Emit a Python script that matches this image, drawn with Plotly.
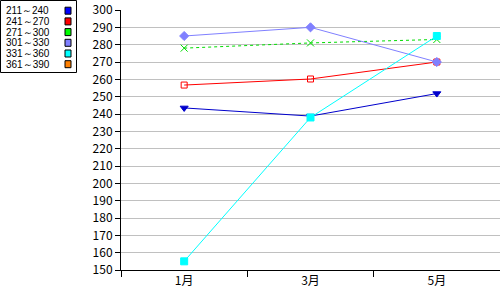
import plotly.graph_objects as go

months = ["1月", "3月", "5月"]
series_names = ["211～240", "241～270", "271～300", "301～330", "331～360", "361～390"]
v211 = [243.5, 238.8, 251.8]
v241 = [256.7, 260.2, 270.0]
v271 = [278.0, 281.0, 283.0]
v301 = [285.0, 290.0, 270.0]
v331 = [155.0, 238.0, 285.0]
v361 = [None, None, None]

colors = ["#0000CC", "#FF0000", "#00DD00", "#8080FF", "#00FFFF", "#FF8000"]
legend_colors = ["#0000FF", "#FF0000", "#00FF00", "#8080FF", "#00FFFF", "#FF8000"]
symbols = ["triangle-down", "square-open", "x-thin-open", "diamond", "square", "circle"]
sizes = [7, 6, 7, 7, 7, 6]
dashes = ["solid", "solid", "dot", "solid", "solid", "solid"]
all_vals = [v211, v241, v271, v301, v331, v361]

FONT = "Noto Sans CJK JP"
LEG_FONT = "Liberation Sans"
fig = go.Figure()
for name, vals, c, s, sz, d in zip(series_names, all_vals, colors, symbols, sizes, dashes):
    fig.add_trace(go.Scatter(
        x=months, y=vals, name=name, mode="lines+markers",
        line=dict(color=c, width=1, dash=d),
        marker=dict(color=c, symbol=s, size=sz, line=dict(color=c, width=1)),
        showlegend=False,
    ))

W, H = 500, 300
ML, MR, MT, MB = 121, 0, 10, 30
PW = W - ML - MR
PH = H - MT - MB

def px_x(px):
    return (px - ML) / PW

def px_y(py):
    return 1 - (py - MT) / PH

ROW = 10.7
shapes = []
annotations = []
# legend box
shapes.append(dict(type="rect", xref="paper", yref="paper",
                   x0=px_x(0.5), x1=px_x(76.5), y0=px_y(0.5), y1=px_y(72.5),
                   line=dict(color="black", width=1), fillcolor="white", layer="above"))
for i, (name, lc) in enumerate(zip(series_names, legend_colors)):
    cy = ROW + i * ROW
    annotations.append(dict(xref="paper", yref="paper", x=px_x(5), y=px_y(cy),
                            xanchor="left", yanchor="middle", text=name,
                            showarrow=False, borderpad=0,
                            font=dict(family=LEG_FONT, size=10, color="black")))
    shapes.append(dict(type="rect", xref="paper", yref="paper",
                       x0=px_x(65), x1=px_x(71), y0=px_y(cy - 3.5), y1=px_y(cy + 3.5),
                       line=dict(color="black", width=1), fillcolor=lc, layer="above"))

fig.update_layout(
    width=W, height=H,
    margin=dict(l=ML, r=MR, t=MT, b=MB, pad=0),
    paper_bgcolor="white", plot_bgcolor="white",
    shapes=shapes, annotations=annotations,
    font=dict(family=FONT, size=12, color="black"),
    xaxis=dict(
        type="category", range=[-0.5, 2.5], tickson="boundaries",
        ticks="outside", ticklen=6, tickcolor="black", tickwidth=1,
        showline=True, linecolor="black", linewidth=1, showgrid=False,
        tickfont=dict(family=FONT, size=12), zeroline=False,
    ),
    yaxis=dict(
        range=[150, 300], dtick=10, tick0=150,
        ticks="outside", ticklen=5, tickcolor="black", tickwidth=1,
        showline=True, linecolor="black", linewidth=1,
        showgrid=True, gridcolor="#C0C0C0", gridwidth=1, zeroline=False,
        tickfont=dict(family=FONT, size=12),
    ),
)

fig.write_html("out.html")
